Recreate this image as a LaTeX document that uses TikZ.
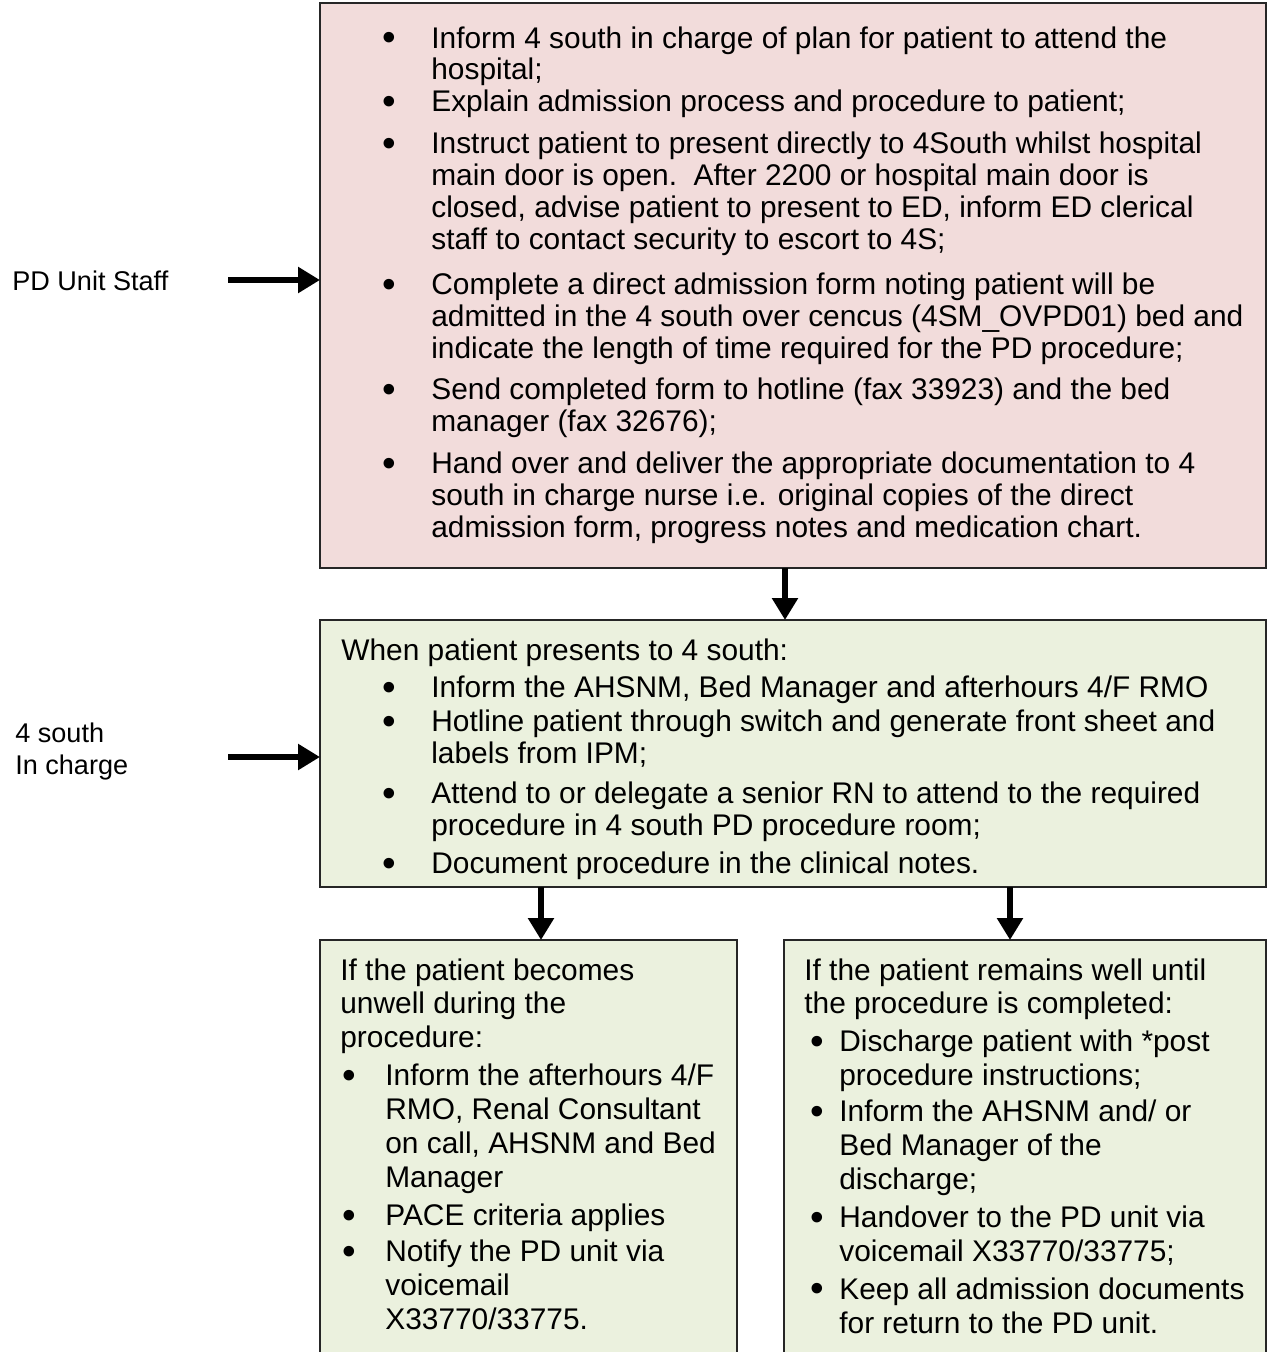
\documentclass[tikz,border=0pt]{standalone}
\usepackage{fontspec}
\usepackage{graphicx}
\setmainfont{Liberation Sans}
\usetikzlibrary{arrows.meta}

\definecolor{planpink}{HTML}{F2DCDB}
\definecolor{stepgreen}{HTML}{EBF1DE}

\newcommand{\boxfont}{\fontsize{17}{18.2}\selectfont}
\newcommand{\lowfont}{\fontsize{17}{19.3}\selectfont}
\newcommand{\sidefont}{\fontsize{15.4}{18.2}\selectfont}
% bullet line: offset of bullet, offset of text
\newcommand{\bigdot}{\raisebox{-0.09em}{\scalebox{1.3}{\textbullet}}}
\newcommand{\bl}[2]{\hspace*{#1}\makebox[#2][l]{\bigdot}}
\newcommand{\cl}[1]{\hspace*{#1}}

\tikzset{
  panel/.style={draw=black!85, line width=1pt, inner sep=0pt, outer sep=0pt,
    anchor=north west},
  txt/.style={anchor=north west, inner sep=0pt, align=left},
  fat/.style={line width=3.6pt, -{Triangle[length=4.4mm,width=5mm]}}
}

\begin{document}
\begin{tikzpicture}[x=0.2mm, y=-0.2mm]
  \useasboundingbox (0,0) rectangle (1268,1352) ;

  % boxes
  \node[panel, fill=planpink, minimum width=189.2mm, minimum height=113mm] %
    (plan) at (320,3) {} ;
  \node[panel, fill=stepgreen, minimum width=189.2mm, minimum height=53.4mm] %
    (arrive) at (320,620) {} ;
  \node[panel, fill=stepgreen, minimum width=83.4mm, minimum height=84mm] %
    (unwell) at (320,940) {} ;
  \node[panel, fill=stepgreen, minimum width=96.4mm, minimum height=84mm] %
    (well) at (784,940) {} ;

  % who does it
  \node[txt, font=\sidefont] (staff) at (12,271) {PD Unit Staff} ;
  \node[txt, font=\sidefont] (charge) at (15,723) {4 south\\In charge} ;

  % texts in the boxes
  \node[txt, font=\boxfont] (plantxt) at (341,26) {%
    \bl{8.2mm}{9.8mm}Inform 4 south in charge of plan for patient to attend the\\
    \cl{18mm}hospital;\\
    \bl{8.2mm}{9.8mm}Explain admission process and procedure to patient;\\[2mm]
    \bl{8.2mm}{9.8mm}Instruct patient to present directly to 4South whilst hospital\\
    \cl{18mm}main door is open.\ \ After 2200 or hospital main door is\\
    \cl{18mm}closed, advise patient to present to ED, inform ED clerical\\
    \cl{18mm}staff to contact security to escort to 4S;\\[2.6mm]
    \bl{8.2mm}{9.8mm}Complete a direct admission form noting patient will be\\
    \cl{18mm}admitted in the 4 south over cencus (4SM\_OVPD01) bed and\\
    \cl{18mm}indicate the length of time required for the PD procedure;\\[1.8mm]
    \bl{8.2mm}{9.8mm}Send completed form to hotline (fax 33923) and the bed\\
    \cl{18mm}manager (fax 32676);\\[2mm]
    \bl{8.2mm}{9.8mm}Hand over and deliver the appropriate documentation to 4\\
    \cl{18mm}south in charge nurse i.e. original copies of the direct\\
    \cl{18mm}admission form, progress notes and medication chart.} ;

  \node[txt, font=\boxfont] (arrivetxt) at (341,638) {%
    When patient presents to 4 south:\\[1.2mm]
    \bl{8.2mm}{9.8mm}Inform the AHSNM, Bed Manager and afterhours 4/F RMO\\[0.4mm]
    \bl{8.2mm}{9.8mm}Hotline patient through switch and generate front sheet and\\
    \cl{18mm}labels from IPM;\\[1.6mm]
    \bl{8.2mm}{9.8mm}Attend to or delegate a senior RN to attend to the required\\
    \cl{18mm}procedure in 4 south PD procedure room;\\[1.2mm]
    \bl{8.2mm}{9.8mm}Document procedure in the clinical notes.} ;

  \node[txt, font=\lowfont] (unwelltxt) at (340,958) {%
    If the patient becomes\\
    unwell during the\\
    procedure:\\[0.8mm]
    \bl{0.4mm}{8.6mm}Inform the afterhours 4/F\\
    \cl{9mm}RMO, Renal Consultant\\
    \cl{9mm}on call, AHSNM and Bed\\
    \cl{9mm}Manager\\[0.8mm]
    \bl{0.4mm}{8.6mm}PACE criteria applies\\[0.4mm]
    \bl{0.4mm}{8.6mm}Notify the PD unit via\\
    \cl{9mm}voicemail\\
    \cl{9mm}X33770/33775.} ;

  \node[txt, font=\lowfont] (welltxt) at (804,958) {%
    If the patient remains well until\\
    the procedure is completed:\\[0.8mm]
    \bl{1.2mm}{5.8mm}Discharge patient with *post\\
    \cl{7mm}procedure instructions;\\[0.4mm]
    \bl{1.2mm}{5.8mm}Inform the AHSNM and/ or\\
    \cl{7mm}Bed Manager of the\\
    \cl{7mm}discharge;\\[0.8mm]
    \bl{1.2mm}{5.8mm}Handover to the PD unit via\\
    \cl{7mm}voicemail X33770/33775;\\[0.8mm]
    \bl{1.2mm}{5.8mm}Keep all admission documents\\
    \cl{7mm}for return to the PD unit.} ;

  % arrows
  \coordinate (s1) at (228,280) ;
  \coordinate (s2) at (228,757) ;
  \coordinate (d1) at (785,0) ;
  \coordinate (d2) at (541,0) ;
  \coordinate (d3) at (1010,0) ;
  \draw[fat] (s1) -- (s1 -| plan.west) ;
  \draw[fat] (s2) -- (s2 -| arrive.west) ;
  \draw[fat] (plan.south -| d1) -- (arrive.north -| d1) ;
  \draw[fat] (arrive.south -| d2) -- (unwell.north -| d2) ;
  \draw[fat] (arrive.south -| d3) -- (well.north -| d3) ;
\end{tikzpicture}
\end{document}
